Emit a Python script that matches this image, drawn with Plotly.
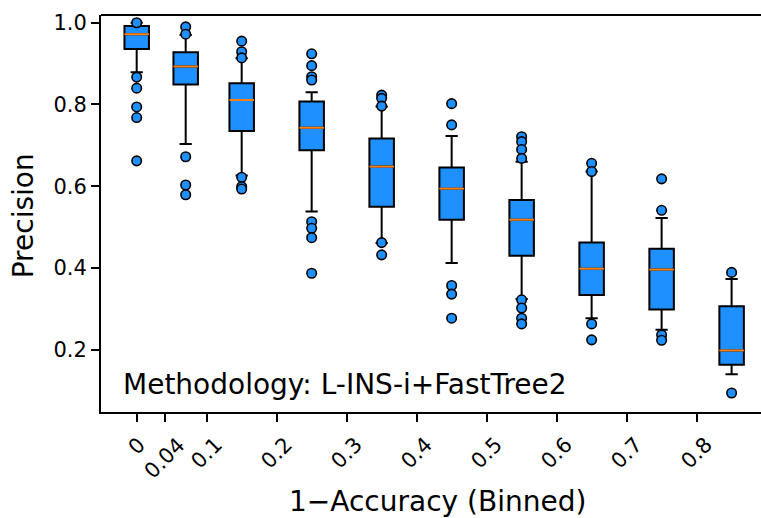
import plotly.graph_objects as go

# ---- data ----
positions = [0, 0.07, 0.15, 0.25, 0.35, 0.45, 0.55, 0.65, 0.75, 0.85]
q1 = [0.936, 0.849, 0.735, 0.688, 0.550, 0.518, 0.430, 0.334, 0.298, 0.163]
medians = [0.972, 0.893, 0.811, 0.743, 0.648, 0.594, 0.518, 0.398, 0.396, 0.198]
q3 = [0.992, 0.928, 0.852, 0.807, 0.717, 0.646, 0.566, 0.462, 0.447, 0.306]
lower_whisker = [0.879, 0.703, 0.626, 0.538, 0.461, 0.412, 0.324, 0.277, 0.249, 0.140]
upper_whisker = [1.000, 0.970, 0.913, 0.830, 0.795, 0.723, 0.660, 0.636, 0.522, 0.373]
fliers = [
    [1.0, 0.867, 0.840, 0.794, 0.768, 0.662],
    [0.990, 0.972, 0.672, 0.603, 0.579],
    [0.955, 0.929, 0.914, 0.622, 0.599, 0.593],
    [0.924, 0.895, 0.868, 0.860, 0.513, 0.497, 0.474, 0.387],
    [0.823, 0.815, 0.796, 0.462, 0.432],
    [0.802, 0.750, 0.357, 0.336, 0.277],
    [0.721, 0.709, 0.690, 0.668, 0.322, 0.302, 0.277, 0.263],
    [0.656, 0.636, 0.263, 0.224],
    [0.618, 0.541, 0.236, 0.223],
    [0.389, 0.094],
]
tick_vals = [0, 0.04, 0.1, 0.2, 0.3, 0.4, 0.5, 0.6, 0.7, 0.8]
tick_labels = ["0", "0.04", "0.1", "0.2", "0.3", "0.4", "0.5", "0.6", "0.7", "0.8"]
y_ticks = [0.2, 0.4, 0.6, 0.8, 1.0]

# ---- styles ----
BOX_W = 0.035
BLUE = "#1E90FF"
ORANGE = "#FF7F0E"
FONT = "DejaVu Sans"
TICK_FS = 21
LABEL_FS = 28

fig = go.Figure()

fig.add_trace(go.Box(
    x=positions, q1=q1, median=medians, q3=q3,
    lowerfence=lower_whisker, upperfence=upper_whisker,
    width=BOX_W, whiskerwidth=0.5, boxpoints=False,
    fillcolor=BLUE, line=dict(color="black", width=2),
    showlegend=False,
))

# orange median lines
mx, my = [], []
for p, m in zip(positions, medians):
    mx += [p - BOX_W / 2, p + BOX_W / 2, None]
    my += [m, m, None]
fig.add_trace(go.Scatter(x=mx, y=my, mode="lines",
                         line=dict(color=ORANGE, width=2), showlegend=False))

# fliers
fx, fy = [], []
for p, fl in zip(positions, fliers):
    fx += [p] * len(fl)
    fy += fl
fig.add_trace(go.Scatter(x=fx, y=fy, mode="markers",
                         marker=dict(size=9.5, color=BLUE, line=dict(color="black", width=1.6)),
                         showlegend=False, cliponaxis=False))

annotations = []
for v, t in zip(tick_vals, tick_labels):
    annotations.append(dict(x=v, xref="x", y=0, yref="paper", text=t, showarrow=False,
                            textangle=-45, xanchor="center", yanchor="top", yshift=-18,
                            font=dict(family=FONT, size=TICK_FS, color="black")))
annotations.append(dict(x=0.5105, xref="paper", y=0, yref="paper", text="1\u2212Accuracy (Binned)",
                        showarrow=False, xanchor="center", yanchor="middle", yshift=-89,
                        font=dict(family=FONT, size=LABEL_FS, color="black")))
annotations.append(dict(x=0, xref="paper", y=0.493, yref="paper", text="Precision",
                        showarrow=False, textangle=-90, xanchor="center", yanchor="middle",
                        xshift=-78, font=dict(family=FONT, size=LABEL_FS, color="black")))
annotations.append(dict(x=0.031, xref="paper", y=0.069, yref="paper",
                        text="Methodology: L-INS-i+FastTree2",
                        showarrow=False, xanchor="left", yanchor="middle",
                        font=dict(family=FONT, size=LABEL_FS, color="black")))

fig.update_layout(
    width=761, height=518,
    margin=dict(l=101, r=0, t=15, b=106),
    paper_bgcolor="white", plot_bgcolor="white",
    showlegend=False,
    annotations=annotations,
    shapes=[dict(type="line", xref="paper", yref="paper", x0=0, x1=1, y0=1, y1=1,
                 line=dict(color="black", width=1.8))],
    xaxis=dict(range=[-0.051, 0.892], tickvals=tick_vals, showticklabels=False,
               ticks="outside", ticklen=8, tickwidth=1.6, tickcolor="black",
               showgrid=False, zeroline=False, showline=True, linecolor="black",
               linewidth=1.8, mirror=False),
    yaxis=dict(range=[0.0474, 1.019], tickvals=y_ticks, tickformat=".1f",
               ticks="outside", ticklen=8, tickwidth=1.6, tickcolor="black",
               tickfont=dict(family=FONT, size=TICK_FS, color="black"),
               showgrid=False, zeroline=False, showline=True, linecolor="black",
               linewidth=1.8, mirror=False),
)

fig.write_html("out.html")
